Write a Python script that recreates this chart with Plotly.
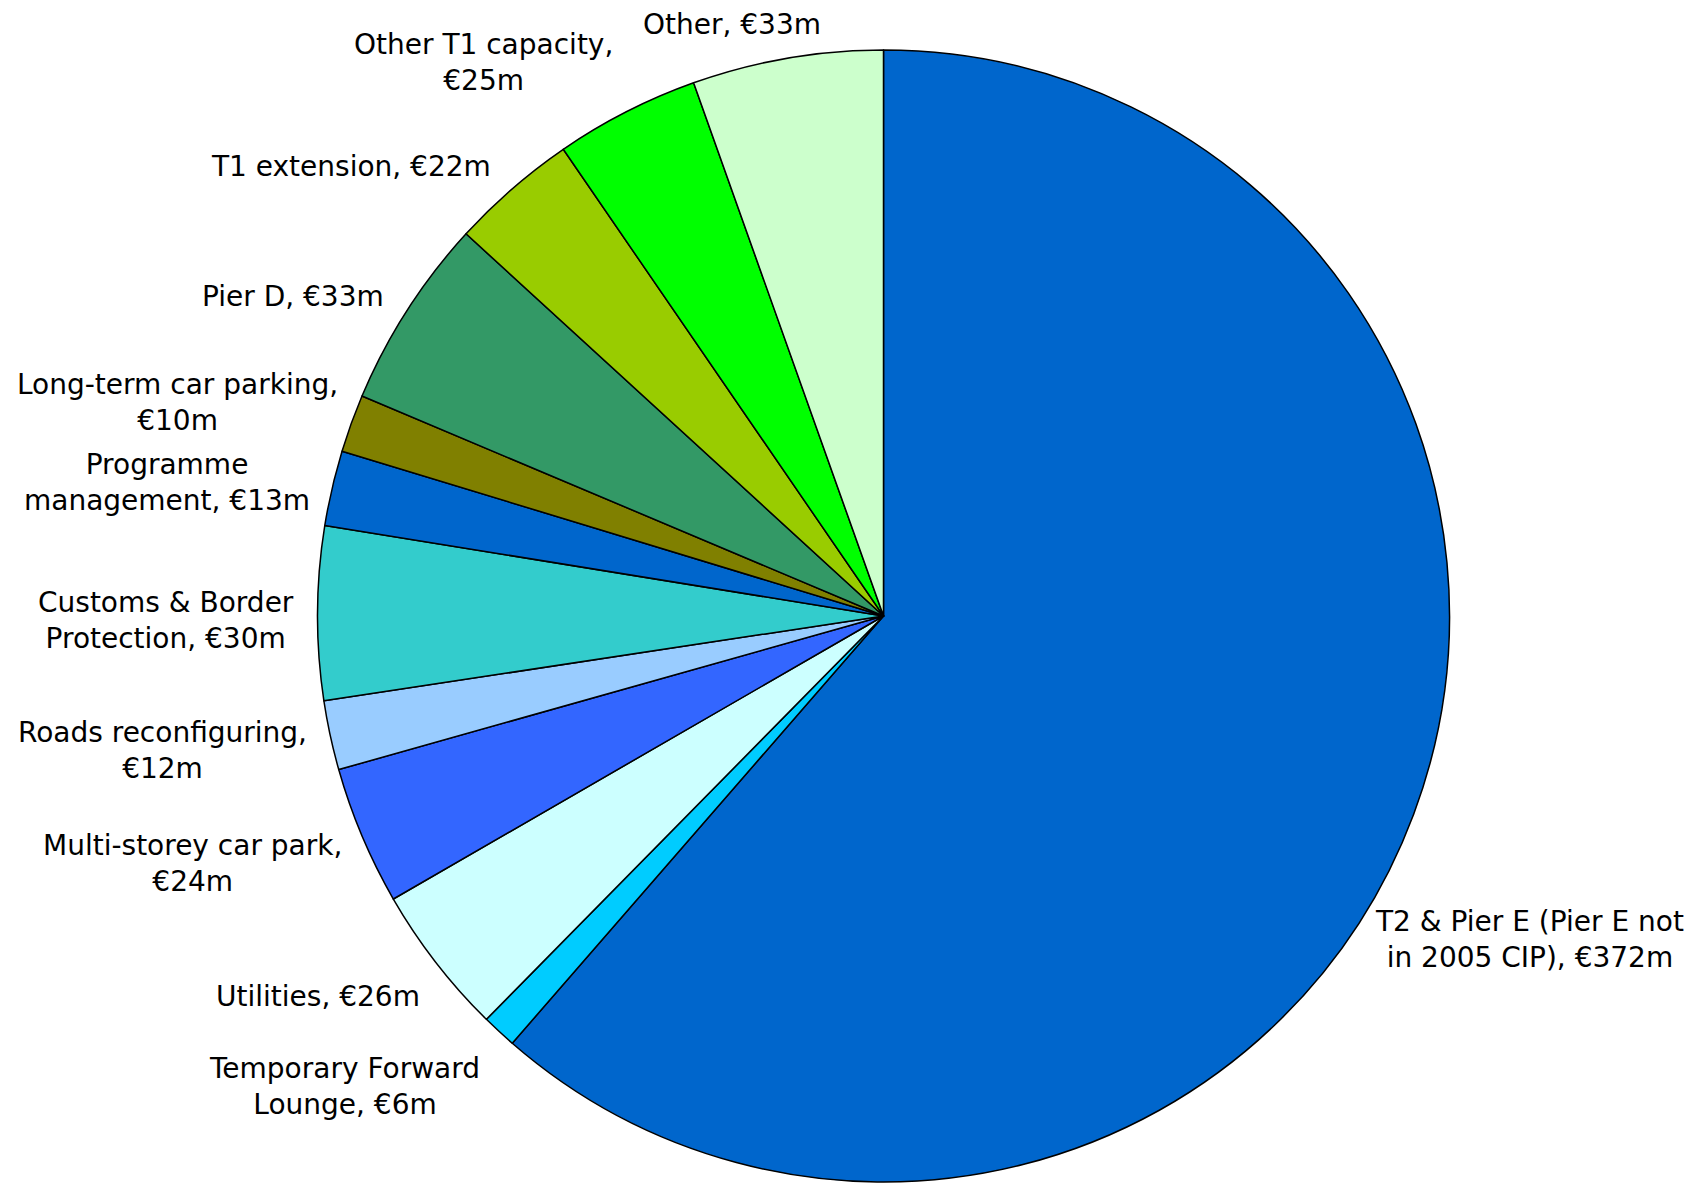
import math
import plotly.graph_objects as go

# ---- data ----
categories = [
    "T2 & Pier E (Pier E not<br>in 2005 CIP), €372m",
    "Temporary Forward<br>Lounge, €6m",
    "Utilities, €26m",
    "Multi-storey car park,<br>€24m",
    "Roads reconfiguring,<br>€12m",
    "Customs & Border<br>Protection, €30m",
    "Programme<br>management, €13m",
    "Long-term car parking,<br>€10m",
    "Pier D, €33m",
    "T1 extension, €22m",
    "Other T1 capacity,<br>€25m",
    "Other, €33m",
]
values = [372, 6, 26, 24, 12, 30, 13, 10, 33, 22, 25, 33]

# ---- style ----
colors = ["#0066CC", "#00CCFF", "#CCFFFF", "#3366FF", "#99CCFF", "#33CCCC",
          "#0066CC", "#808000", "#339966", "#99CC00", "#00FF00", "#CCFFCC"]
# small per-label nudges (px) applied after angle-based placement
label_nudge_x = [-64, 0, 6, 5, 3, 3, 4, 12, 0, -3, 0, -51]
label_nudge_y = [-117, 0, 0, -18, -10, -8, 0, 12, 0, 3, -9, -9]

W, H = 1703, 1184
OFF = 8  # page body margin
dom_x = [(317 - OFF) / W, (1450 - OFF) / W]
dom_y = [1 - (1182 - OFF) / H, 1 - (50 - OFF) / H]
FONT = "DejaVu Sans, Verdana, sans-serif"
FS = 28
GAP = 25

fig = go.Figure(go.Pie(
    labels=[c.replace("<br>", " ") for c in categories],
    values=values,
    sort=False,
    direction="clockwise",
    rotation=0,
    marker=dict(colors=colors, line=dict(color="#000000", width=1.5)),
    textinfo="none",
    hoverinfo="label+value",
    domain=dict(x=dom_x, y=dom_y),
    showlegend=False,
))

# pie geometry in px (derived from the domain)
cx = (dom_x[0] + dom_x[1]) / 2 * W
cy = (1 - (dom_y[0] + dom_y[1]) / 2) * H
R = min((dom_x[1] - dom_x[0]) * W, (dom_y[1] - dom_y[0]) * H) / 2

total = sum(values)
cum = 0
annotations = []
for i, (lab, v) in enumerate(zip(categories, values)):
    mid = (cum + v / 2) / total * 2 * math.pi
    cum += v
    s, c = math.sin(mid), math.cos(mid)
    px = cx + (R + GAP) * s
    py = cy - (R + GAP) * c
    xa = "center" if abs(s) < 0.3 else ("left" if s > 0 else "right")
    ya = "bottom" if c > 0.8 else ("top" if c < -0.6 else "middle")
    annotations.append(dict(
        x=px / W, y=1 - py / H, xref="paper", yref="paper",
        text=lab, showarrow=False, xanchor=xa, yanchor=ya, align="center",
        xshift=label_nudge_x[i], yshift=label_nudge_y[i],
        font=dict(family=FONT, size=FS, color="#000000"),
    ))

fig.update_layout(
    width=W, height=H,
    margin=dict(l=0, r=0, t=0, b=0),
    paper_bgcolor="white", plot_bgcolor="white",
    annotations=annotations,
    font=dict(family=FONT, size=FS, color="#000000"),
)

fig.write_html("out.html")
